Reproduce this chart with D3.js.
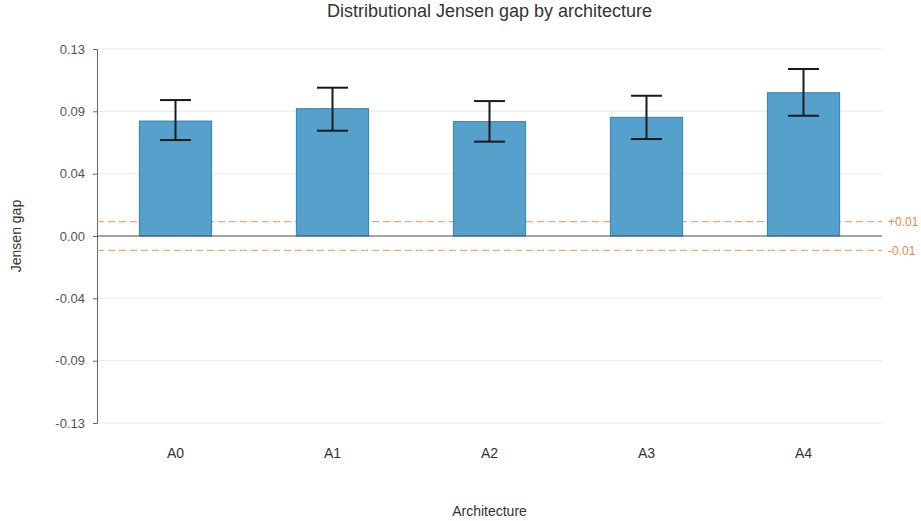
<!DOCTYPE html>
<html><head><meta charset="utf-8">
<script src="https://cdn.jsdelivr.net/npm/d3@7"></script>
<style>body{margin:0;background:#fff;}svg{display:block;font-family:"Liberation Sans",Arial,sans-serif;}</style>
</head><body><svg id="c" width="921" height="521"></svg>
<script>
const categories = ["A0","A1","A2","A3","A4"];
const values = [0.0799, 0.0885, 0.0795, 0.0825, 0.0996];
const errLow = [0.0667, 0.0732, 0.0656, 0.0674, 0.0836];
const errHigh = [0.0945, 0.1031, 0.0938, 0.0975, 0.1161];
const yTicks = [-0.13, -0.0867, -0.0433, 0, 0.0433, 0.0867, 0.13];
const thresholds = [0.01, -0.01];
const thresholdLabels = ["+0.01", "-0.01"];

const svg = d3.select("#c");
const m = {left:97, right:882, top:49, bottom:423};
const x = d3.scaleBand().domain(categories).range([m.left, m.right]).paddingInner(0.54).paddingOuter(0.27);
const y = d3.scaleLinear().domain([-0.13, 0.13]).range([m.bottom, m.top]);
const fmt = d => d3.format(".2f")(d).replace("\u2212", "-");

// grid
svg.append("g").selectAll("line").data(yTicks).join("line")
  .attr("x1", m.left).attr("x2", m.right)
  .attr("y1", d=>y(d)).attr("y2", d=>y(d))
  .attr("stroke", "#e8e8e8").attr("stroke-width", 1);

// y axis
const ya = svg.append("g").attr("transform", `translate(${m.left},0)`)
  .call(d3.axisLeft(y).tickValues(yTicks).tickFormat(fmt).tickSize(4).tickPadding(8));
ya.select(".domain").attr("stroke", "#666");
ya.selectAll(".tick line").attr("stroke", "#666");
ya.selectAll("text").attr("fill", "#555").style("font-size", "13px").style("font-family", "Liberation Sans, Arial, sans-serif");

// threshold lines
svg.append("g").selectAll("line").data(thresholds).join("line")
  .attr("x1", m.left).attr("x2", m.right)
  .attr("y1", d=>y(d)).attr("y2", d=>y(d))
  .attr("stroke", "#f0a870").attr("stroke-width", 1.3).attr("stroke-dasharray", "7,4");
svg.append("g").selectAll("text").data(thresholds).join("text")
  .attr("x", m.right + 6).attr("y", d=>y(d)).attr("dy", "0.35em")
  .attr("fill", "#e8893f").style("font-size", "12px")
  .text((d,i)=>thresholdLabels[i]);

// bars
const data = categories.map((c,i)=>({c, v:values[i], lo:errLow[i], hi:errHigh[i]}));
svg.append("g").selectAll("rect").data(data).join("rect")
  .attr("x", d=>x(d.c)).attr("width", x.bandwidth())
  .attr("y", d=>y(Math.max(0,d.v))).attr("height", d=>Math.abs(y(d.v)-y(0)))
  .attr("fill", "#56a0cc").attr("stroke", "#2f80ba").attr("stroke-width", 1);

// zero line
svg.append("line").attr("x1", m.left).attr("x2", m.right).attr("y1", y(0)).attr("y2", y(0))
  .attr("stroke", "#555").attr("stroke-width", 1.2);

// error bars
const eb = svg.append("g").selectAll("g").data(data).join("g")
  .attr("stroke", "#1a1a1a").attr("stroke-width", 2);
const cx = d => x(d.c) + x.bandwidth()/2;
const cap = 15.5;
eb.append("line").attr("x1", cx).attr("x2", cx).attr("y1", d=>y(d.hi)).attr("y2", d=>y(d.lo));
eb.append("line").attr("x1", d=>cx(d)-cap).attr("x2", d=>cx(d)+cap).attr("y1", d=>y(d.hi)).attr("y2", d=>y(d.hi));
eb.append("line").attr("x1", d=>cx(d)-cap).attr("x2", d=>cx(d)+cap).attr("y1", d=>y(d.lo)).attr("y2", d=>y(d.lo));

// x labels
svg.append("g").selectAll("text").data(categories).join("text")
  .attr("x", d=>x(d)+x.bandwidth()/2).attr("y", 458)
  .attr("text-anchor", "middle").attr("fill", "#333").style("font-size", "14px").text(d=>d);

// titles
svg.append("text").attr("x", (m.left+m.right)/2).attr("y", 17).attr("text-anchor", "middle")
  .attr("fill", "#333").style("font-size", "18px").text("Distributional Jensen gap by architecture");
svg.append("text").attr("x", (m.left+m.right)/2).attr("y", 516).attr("text-anchor", "middle")
  .attr("fill", "#333").style("font-size", "14px").text("Architecture");
svg.append("text").attr("transform", `translate(21,${y(0)}) rotate(-90)`).attr("text-anchor", "middle")
  .attr("fill", "#333").style("font-size", "14px").text("Jensen gap");
</script></body></html>
